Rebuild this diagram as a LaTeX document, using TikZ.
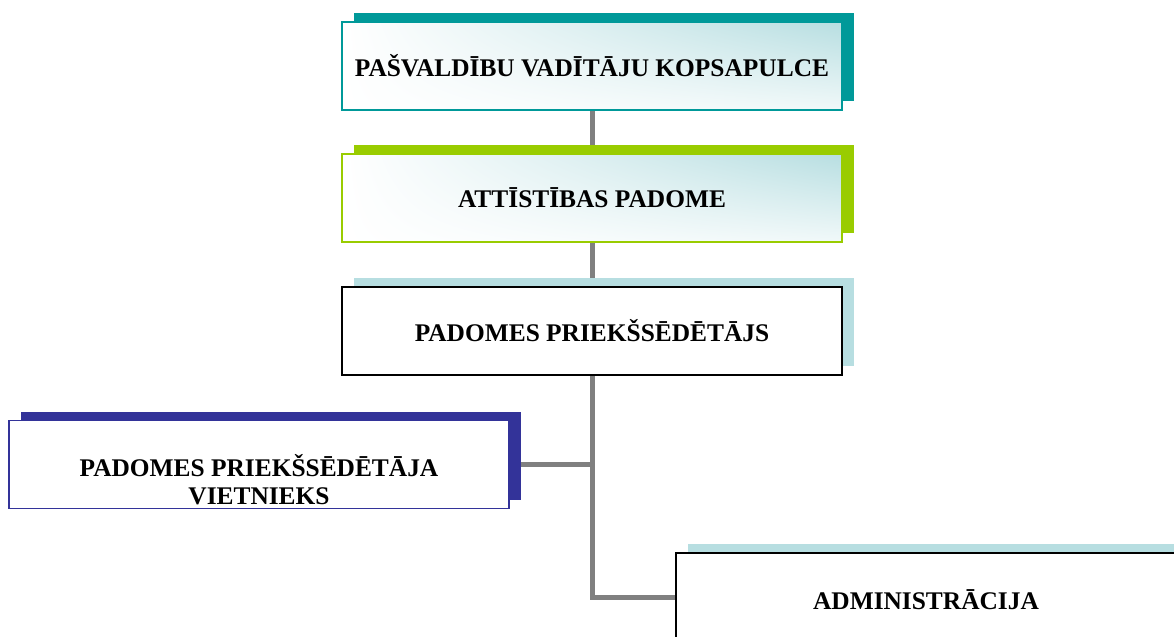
\documentclass[tikz,border=0pt]{standalone}
\usepackage{fontspec}
\setmainfont{Liberation Serif}
\usetikzlibrary{shadows,shadings,backgrounds}
\definecolor{tealshade}{HTML}{009999}
\definecolor{limeshade}{HTML}{99CC00}
\definecolor{paleblue}{HTML}{B7DEE1}
\definecolor{navyshade}{HTML}{333399}
\definecolor{linkgray}{HTML}{808080}
\tikzset{
	orgbox/.style={rectangle, minimum width=250pt, minimum height=44pt, inner sep=0pt,
		font=\fontsize{12.7}{14}\selectfont\bfseries, align=center},
	boxshadow/.style={general shadow={fill=#1, shadow xshift=5.75pt, shadow yshift=4.5pt}},
	glow/.style={upper left=white, upper right=paleblue, lower left=white, lower right=white!80!paleblue},
	link/.style={draw=linkgray, line width=2.5pt}
}
\begin{document}
\begin{tikzpicture}[x=0.5pt, y=-0.5pt]
	\useasboundingbox (0,0) rectangle (1174,637);
	\node [orgbox, glow, draw=tealshade, line width=1pt, boxshadow=tealshade] (kopsapulce) at (592,66) {PAŠVALDĪBU VADĪTĀJU KOPSAPULCE};
	\node [orgbox, glow, draw=limeshade, line width=1pt, boxshadow=limeshade] (attistiba) at (592,197.5) {ATTĪSTĪBAS PADOME};
	\node [orgbox, fill=white, draw=black, line width=1.2pt, boxshadow=paleblue] (chair) at (592,331) {PADOMES PRIEKŠSĒDĒTĀJS};
	\node [orgbox, fill=white, draw=navyshade, line width=0.8pt, boxshadow=navyshade] (viet) at (259,464.5) {};
	\node [orgbox, minimum height=0pt] (viettext) at (259,480) {PADOMES PRIEKŠSĒDĒTĀJA\\VIETNIEKS};
	\node [orgbox, fill=white, draw=black, line width=1.2pt, boxshadow=paleblue] (admin) at (926,597) {};
	\node [orgbox, minimum height=0pt] (admintext) at (926,600) {ADMINISTRĀCIJA};
	% connectors
	\begin{scope}[on background layer]
		\draw [link] (kopsapulce) -- (attistiba);
		\draw [link] (attistiba) -- (chair);
		\draw [link] (chair.south) |- (admin.west);
		\draw [link] (viet.east) -- (viet.east -| chair.south);
	\end{scope}
\end{tikzpicture}
\end{document}
